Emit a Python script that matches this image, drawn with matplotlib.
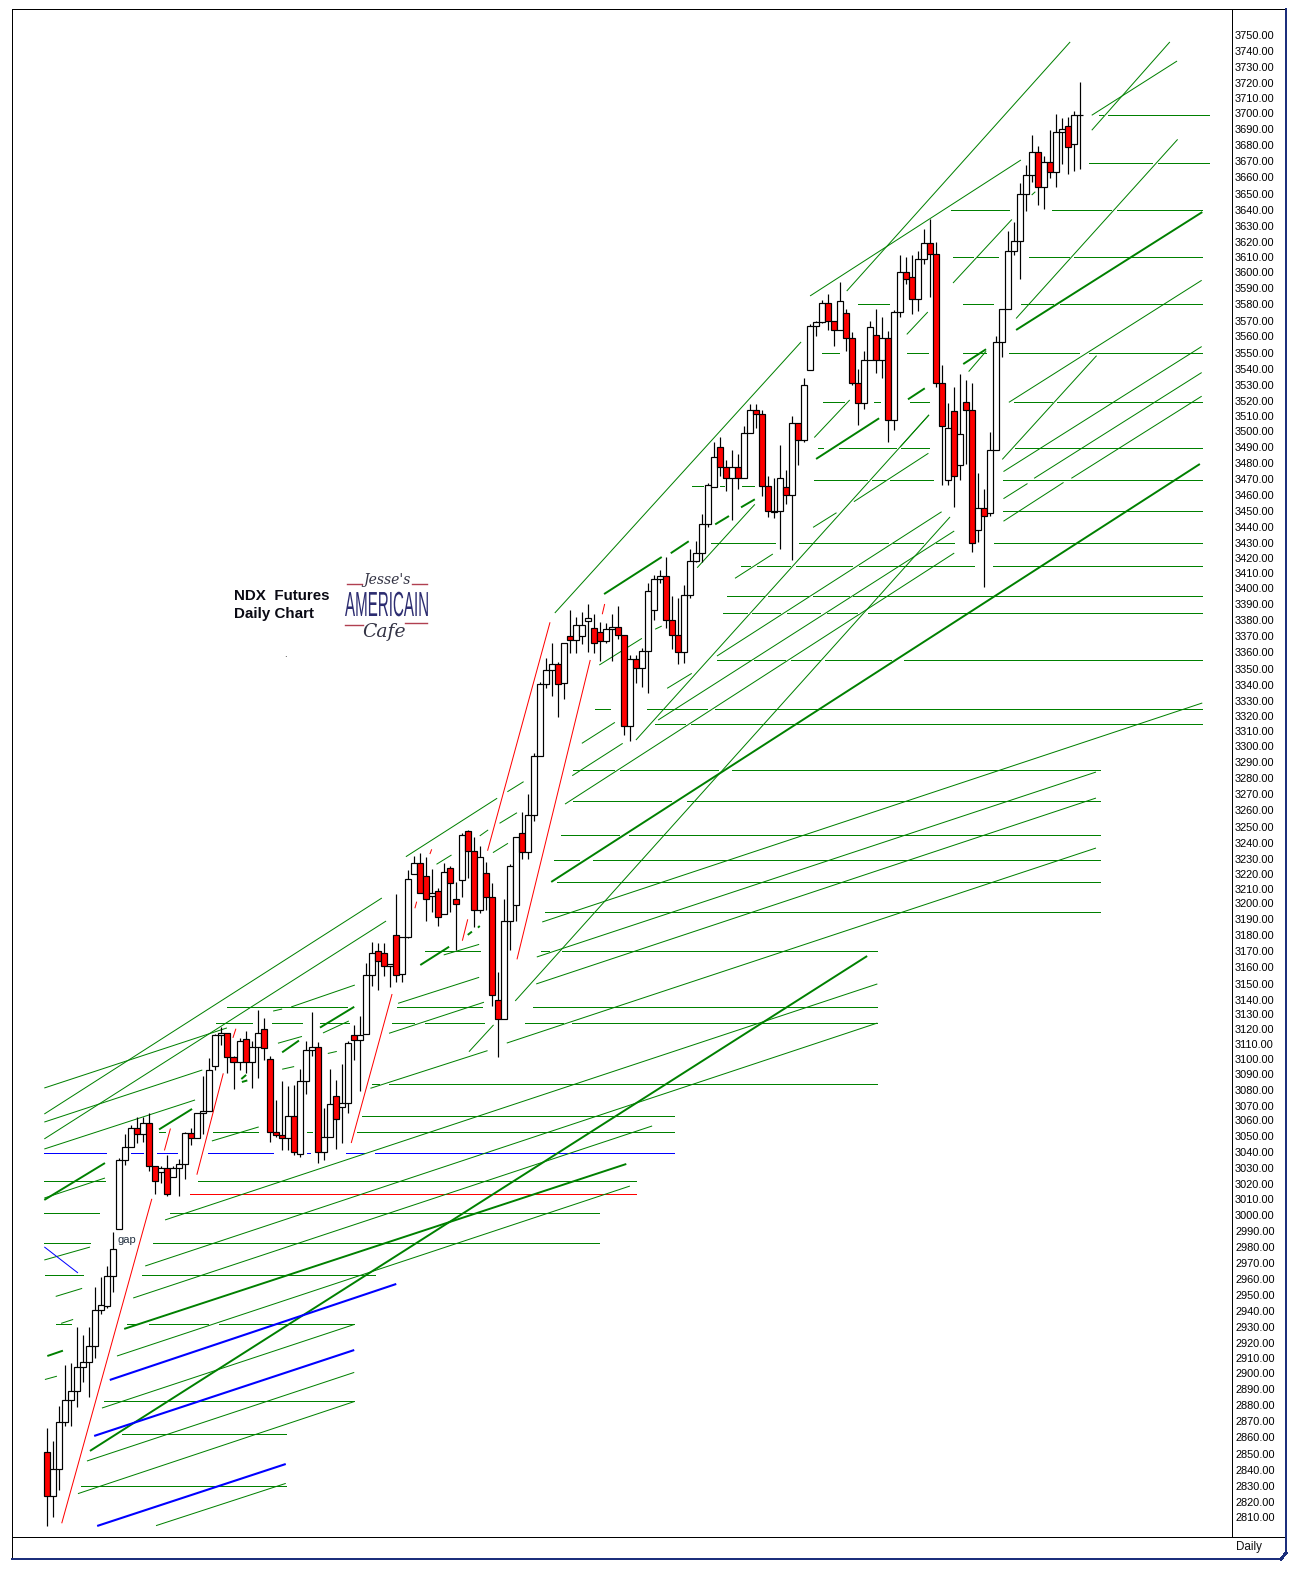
import matplotlib
matplotlib.use('Agg')
import matplotlib.pyplot as plt
from matplotlib.lines import Line2D
from matplotlib.patheffects import AbstractPathEffect
from matplotlib.transforms import Affine2D, ScaledTranslation

W, H = 1297, 1569

# daily candles
opens = [
    2851.0, 2823.2, 2840.3, 2870.5, 2884.4, 2889.6, 2905.2, 2908.5, 2918.7, 2941.0,
    2943.9, 2963.1, 2992.6, 3036.3, 3044.4, 3056.5, 3052.8, 3059.6, 3032.4, 3028.6,
    3031.5, 3025.7, 3031.5, 3034.1, 3053.4, 3050.2, 3066.1, 3067.3, 3095.9, 3115.4,
    3117.1, 3101.5, 3098.4, 3113.0, 3098.4, 3107.9, 3119.8, 3100.8, 3054.5, 3052.1,
    3050.2, 3064.2, 3040.5, 3086.3, 3105.9, 3107.9, 3041.2, 3050.9, 3076.8, 3070.1,
    3072.9, 3115.4, 3112.3, 3116.2, 3153.6, 3168.8, 3167.5, 3159.3, 3178.9, 3154.2,
    3177.7, 3217.6, 3224.6, 3216.4, 3203.9, 3206.9, 3192.3, 3221.4, 3201.8, 3213.8,
    3244.9, 3232.2, 3195.0, 3218.3, 3203.0, 3137.7, 3125.7, 3187.8, 3198.0, 3243.6,
    3231.6, 3255.1, 3292.5, 3338.1, 3347.0, 3350.8, 3338.8, 3368.6, 3366.0, 3368.6,
    3378.1, 3373.6, 3371.1, 3365.4, 3373.0, 3374.3, 3369.2, 3311.5, 3354.0, 3348.3,
    3359.1, 3385.0, 3405.0, 3406.9, 3378.8, 3369.2, 3358.5, 3394.6, 3416.2, 3421.3,
    3439.6, 3463.5, 3488.5, 3475.8, 3468.8, 3475.8, 3468.8, 3497.4, 3512.0, 3509.4,
    3463.7, 3447.3, 3447.9, 3463.1, 3458.0, 3503.7, 3492.9, 3537.3, 3565.2, 3568.2,
    3579.8, 3568.4, 3562.7, 3573.5, 3557.6, 3529.1, 3516.4, 3543.7, 3559.5, 3543.7,
    3557.6, 3505.6, 3574.1, 3599.5, 3596.3, 3582.3, 3607.7, 3617.9, 3610.9, 3529.1,
    3467.5, 3511.3, 3477.0, 3517.0, 3511.9, 3436.2, 3449.7, 3447.1, 3486.6, 3555.0,
    3576.0, 3612.9, 3619.1, 3648.9, 3660.9, 3675.5, 3653.4, 3669.3, 3662.8, 3688.3,
    3692.6, 3680.6, 3699.1]
highs = [
    2866.3, 2858.1, 2880.6, 2906.3, 2907.4, 2930.4, 2925.6, 2930.4, 2955.6, 2962.0,
    2969.5, 2990.8, 3037.6, 3053.2, 3058.6, 3064.0, 3064.0, 3066.1, 3032.4, 3032.8,
    3039.3, 3032.8, 3037.1, 3054.3, 3056.5, 3066.1, 3089.6, 3101.0, 3116.5, 3120.8,
    3117.1, 3102.5, 3113.9, 3118.2, 3112.1, 3131.5, 3126.7, 3102.5, 3074.4, 3086.5,
    3083.6, 3084.2, 3094.0, 3111.7, 3130.6, 3111.1, 3069.3, 3094.0, 3086.9, 3097.1,
    3111.7, 3121.8, 3127.7, 3161.2, 3174.5, 3173.9, 3173.9, 3160.6, 3205.2, 3177.7,
    3220.4, 3229.3, 3231.0, 3228.4, 3220.8, 3208.8, 3224.6, 3222.9, 3212.6, 3243.6,
    3245.7, 3241.5, 3235.6, 3225.7, 3212.3, 3155.9, 3201.8, 3224.2, 3241.5, 3257.0,
    3268.6, 3294.4, 3339.8, 3354.6, 3364.1, 3352.5, 3364.1, 3385.3, 3381.0, 3383.8,
    3389.1, 3382.5, 3377.5, 3377.2, 3382.5, 3387.8, 3369.2, 3356.7, 3356.7, 3361.0,
    3402.6, 3407.7, 3410.7, 3419.1, 3394.2, 3392.9, 3401.1, 3423.8, 3428.9, 3446.2,
    3465.6, 3491.7, 3494.8, 3480.4, 3486.8, 3484.3, 3502.0, 3515.8, 3515.9, 3512.2,
    3470.3, 3468.8, 3490.0, 3474.1, 3508.4, 3503.7, 3532.2, 3566.7, 3568.8, 3581.9,
    3585.7, 3568.4, 3593.1, 3576.2, 3561.4, 3538.2, 3549.4, 3568.8, 3576.0, 3570.9,
    3562.5, 3575.6, 3610.5, 3609.0, 3610.2, 3612.8, 3626.7, 3633.1, 3618.5, 3540.5,
    3516.4, 3527.0, 3534.8, 3530.9, 3529.2, 3472.2, 3462.0, 3498.0, 3559.0, 3576.0,
    3625.8, 3631.3, 3656.0, 3667.3, 3686.4, 3679.5, 3673.1, 3689.7, 3699.9, 3697.4,
    3698.2, 3701.6, 3719.9]
lows = [
    2804.5, 2809.9, 2827.0, 2867.7, 2867.7, 2879.6, 2895.6, 2885.9, 2911.0, 2938.9,
    2942.7, 2952.4, 2992.6, 3033.2, 3044.4, 3047.4, 3047.8, 3029.6, 3014.6, 3022.1,
    3013.5, 3025.7, 3013.5, 3024.3, 3045.7, 3050.2, 3053.2, 3067.3, 3093.3, 3109.6,
    3091.7, 3081.7, 3093.3, 3091.7, 3082.1, 3088.6, 3099.8, 3047.8, 3050.9, 3042.5,
    3042.5, 3039.7, 3038.6, 3078.5, 3102.5, 3034.5, 3036.7, 3050.9, 3043.6, 3047.4,
    3066.5, 3099.8, 3080.0, 3116.2, 3147.0, 3144.3, 3153.4, 3146.4, 3149.6, 3149.1,
    3177.0, 3217.6, 3205.6, 3188.2, 3194.0, 3185.1, 3192.3, 3194.0, 3169.6, 3203.5,
    3215.1, 3184.0, 3192.9, 3195.0, 3134.1, 3101.6, 3125.7, 3169.6, 3188.2, 3227.1,
    3227.1, 3251.7, 3292.5, 3335.6, 3330.7, 3317.6, 3329.0, 3358.2, 3358.2, 3363.7,
    3358.8, 3358.2, 3352.9, 3364.1, 3352.9, 3366.9, 3306.0, 3302.4, 3338.8, 3336.2,
    3332.4, 3378.8, 3402.6, 3373.7, 3360.7, 3350.8, 3351.5, 3392.9, 3416.0, 3416.0,
    3438.2, 3463.1, 3470.5, 3461.0, 3442.4, 3461.8, 3468.8, 3497.4, 3500.5, 3457.8,
    3444.1, 3443.5, 3423.8, 3452.5, 3417.0, 3477.3, 3491.7, 3537.3, 3559.1, 3567.5,
    3562.9, 3553.0, 3562.7, 3549.8, 3528.0, 3502.9, 3513.0, 3543.7, 3535.8, 3532.7,
    3492.1, 3499.5, 3571.4, 3592.1, 3573.0, 3575.2, 3604.8, 3583.6, 3526.5, 3464.6,
    3464.6, 3450.4, 3467.9, 3478.0, 3422.3, 3428.7, 3399.8, 3445.2, 3486.6, 3545.9,
    3576.0, 3610.3, 3595.5, 3638.1, 3657.0, 3642.0, 3639.5, 3659.2, 3653.9, 3668.2,
    3662.0, 3663.9, 3665.2]
closes = [
    2823.2, 2840.3, 2870.5, 2884.4, 2889.6, 2905.2, 2908.5, 2918.7, 2941.0, 2944.3,
    2963.1, 2979.7, 3036.3, 3044.4, 3056.5, 3052.8, 3059.6, 3032.4, 3023.4, 3031.5,
    3015.1, 3031.5, 3034.1, 3053.4, 3050.2, 3066.1, 3067.3, 3093.3, 3115.4, 3117.1,
    3101.5, 3098.4, 3111.7, 3098.4, 3107.9, 3117.1, 3107.3, 3054.5, 3052.1, 3050.2,
    3064.2, 3041.8, 3086.3, 3105.9, 3107.9, 3041.2, 3050.9, 3071.7, 3062.2, 3072.9,
    3110.7, 3112.3, 3116.0, 3153.6, 3167.5, 3162.5, 3159.3, 3160.6, 3153.6, 3177.7,
    3214.5, 3224.6, 3205.6, 3201.8, 3205.6, 3190.4, 3218.9, 3211.9, 3198.6, 3242.4,
    3232.2, 3195.0, 3228.4, 3203.0, 3140.9, 3125.7, 3187.8, 3222.9, 3241.1, 3231.6,
    3255.1, 3292.5, 3338.1, 3347.0, 3350.8, 3338.1, 3364.1, 3366.0, 3375.5, 3375.5,
    3380.0, 3364.1, 3365.4, 3373.0, 3374.3, 3369.2, 3311.5, 3354.0, 3348.3, 3359.1,
    3397.1, 3404.8, 3406.9, 3378.8, 3369.2, 3358.5, 3394.6, 3416.2, 3421.3, 3439.6,
    3464.4, 3482.1, 3475.8, 3468.8, 3475.8, 3468.8, 3497.4, 3512.0, 3509.4, 3463.7,
    3447.9, 3447.9, 3468.8, 3458.0, 3503.7, 3492.9, 3527.8, 3565.2, 3568.2, 3579.8,
    3568.4, 3562.7, 3581.1, 3557.6, 3529.1, 3516.4, 3543.7, 3564.6, 3543.7, 3557.6,
    3505.6, 3574.1, 3599.5, 3595.0, 3582.3, 3607.7, 3617.9, 3610.9, 3529.1, 3501.8,
    3500.5, 3470.1, 3497.2, 3511.9, 3427.6, 3449.7, 3445.2, 3486.6, 3555.0, 3576.0,
    3612.9, 3619.1, 3648.9, 3660.9, 3675.5, 3653.4, 3669.3, 3662.8, 3688.3, 3690.1,
    3678.7, 3699.1, 3699.1]

price_ticks = list(range(3750, 2800, -10))
# the labels of this chart sit a little unevenly: row of each label, top down
label_rows = [
    35, 51, 67, 83, 98, 113, 129, 145, 161, 177, 194, 210, 226, 242, 257, 272, 288, 304,
    321, 336, 353, 369, 385, 401, 416, 431, 447, 463, 479, 495, 511, 527, 543, 558, 573,
    588, 604, 620, 636, 652, 669, 685, 701, 716, 731, 746, 762, 778, 794, 810, 827, 843,
    859, 874, 889, 903, 919, 935, 951, 967, 984, 1000, 1014, 1029, 1044, 1059, 1074,
    1090, 1106, 1120, 1136, 1152, 1168, 1184, 1199, 1215, 1231, 1247, 1263, 1279, 1295,
    1311, 1327, 1343, 1358, 1373, 1389, 1405, 1421, 1437, 1454, 1470, 1486, 1502, 1517]

# horizontal levels: price, then (from bar, to bar) pieces
green_levels = [
    (3699.1, [(175.1, 175.8), (176.6, 193.4)]),
    (3668.6, [(173.4, 184.0), (184.9, 193.4)]),
    (3638.8, [(150.5, 160.1), (167.3, 177.1), (178.1, 192.3)]),
    (3609.0, [(150.8, 154.1), (154.8, 158.3), (163.5, 170.1), (170.9, 192.3)]),
    (3579.2, [(135.0, 140.2), (152.5, 157.5), (162.1, 167.5), (168.6, 192.3)]),
    (3548.1, [(129.0, 131.8), (143.2, 146.6), (152.5, 156.3), (160.1, 171.8), (173.4, 192.3)]),
    (3517.0, [(129.2, 132.7), (137.6, 138.6), (143.6, 146.8), (161.0, 167.3), (168.1, 192.3)]),
    (3487.9, [(128.3, 129.2), (131.8, 141.3), (142.1, 146.8), (161.1, 192.3)]),
    (3467.6, [(127.7, 136.5), (137.3, 139.5), (140.3, 147.5), (159.1, 192.3)]),
    (3463.8, [(107.3, 109.2), (112.0, 112.7), (115.7, 117.7)]),
    (3447.8, [(159.1, 192.3)]),
    (3427.6, [(110.5, 121.2), (125.2, 140.0), (140.8, 145.8), (148.0, 151.0), (157.6, 192.3)]),
    (3413.0, [(115.5, 117.0), (118.2, 123.7), (124.7, 134.0), (135.1, 154.3), (157.5, 192.3)]),
    (3393.9, [(113.2, 119.3), (120.0, 126.7), (127.5, 133.5), (134.2, 192.3)]),
    (3383.2, [(112.5, 116.5), (117.3, 122.0), (123.2, 128.7), (129.8, 134.8), (136.6, 192.3)]),
    (3353.4, [(111.5, 117.2), (117.7, 122.8), (123.8, 128.7), (129.5, 140.5), (142.6, 192.3)]),
    (3322.3, [(91.2, 93.7), (99.9, 109.8), (111.2, 192.3)]),
    (3312.8, [(101.2, 106.2), (107.2, 192.3)]),
    (3283.6, [(87.5, 94.4), (95.4, 111.7), (114.0, 175.3)]),
    (3264.0, [(87.5, 103.8), (106.5, 175.3)]),
    (3242.4, [(85.5, 95.2), (96.8, 175.3)]),
    (3226.5, [(84.4, 88.5), (90.9, 175.3)]),
    (3212.6, [(84.9, 175.3)]),
    (3193.5, [(82.9, 175.3)]),
    (3168.8, [(62.9, 72.0), (82.2, 83.5), (85.7, 138.2)]),
    (3133.3, [(29.9, 49.9), (58.2, 72.4), (80.9, 138.2)]),
    (3123.1, [(28.1, 34.1), (37.4, 42.4), (45.4, 50.2), (57.4, 61.1), (62.9, 72.7), (79.5, 85.9), (87.4, 138.2)]),
    (3084.4, [(54.1, 55.2), (56.9, 138.2)]),
    (3064.2, [(52.4, 104.4)]),
    (3054.0, [(18.6, 19.6), (27.6, 35.1), (43.2, 44.1), (51.6, 104.4)]),
    (3022.9, [(-0.5, 9.6), (25.1, 98.0)]),
    (3002.6, [(-0.5, 8.6), (20.4, 91.9)]),
    (2983.5, [(-0.5, 7.1), (17.6, 91.9)]),
    (2963.2, [(-0.4, 5.9), (15.8, 54.6)]),
    (2932.1, [(1.4, 3.9), (13.3, 14.6), (16.9, 26.8), (28.6, 51.1)]),
    (2883.4, [(9.4, 51.1)]),
    (2862.4, [(12.4, 39.7)]),
    (2829.4, [(5.6, 39.7)]),
]
blue_level = (3040.7, [(-0.5, 9.8), (13.9, 15.9), (18.3, 21.6), (22.4, 23.4), (26.8, 37.6),
                       (43.2, 43.7), (49.7, 52.7), (54.6, 104.4)])
red_level = (3014.7, [(23.8, 98.0)])

# trendlines: bar, price, bar, price
thick_green = [
    (83.9, 3212.8, 191.9, 3477.9), (161.3, 3562.9, 192.3, 3637.7),
    (7.1, 2851.9, 136.5, 3165.8), (12.8, 2929.3, 96.4, 3033.9),
    (-0.5, 3011.1, 9.6, 3034.5), (0.0, 2912.1, 2.6, 2915.5),
    (45.4, 3120.4, 51.1, 3133.6), (39.1, 3104.7, 41.9, 3112.2),
    (18.6, 3055.8, 24.1, 3068.8), (62.1, 3160.1, 66.9, 3171.7),
    (92.7, 3395.4, 102.3, 3418.9), (103.8, 3421.3, 106.8, 3428.9),
    (111.2, 3439.6, 113.5, 3444.9), (115.5, 3450.4, 117.8, 3455.5),
    (128.0, 3481.1, 138.5, 3506.9), (143.3, 3518.9, 146.1, 3525.9),
    (152.5, 3541.3, 156.3, 3550.7), (70.0, 3179.2, 70.7, 3181.3),
    (71.7, 3183.8, 72.0, 3184.9), (32.3, 3087.8, 33.1, 3090.4),
    (32.4, 3085.9, 33.3, 3086.9),
]
thick_blue = [
    (10.4, 2896.9, 58.1, 2957.8), (7.8, 2861.4, 51.1, 2915.9),
    (8.3, 2804.3, 39.7, 2843.6),
]
thin_blue = [(-0.5, 2981.3, 5.1, 2964.8)]
thin_green = [
    (-0.5, 3065.6, 55.7, 3202.6), (-0.5, 3049.8, 56.4, 3188.0),
    (-0.5, 3082.1, 29.9, 3120.2), (37.6, 3130.9, 39.1, 3132.2),
    (40.6, 3133.5, 51.2, 3147.4), (-0.5, 3060.5, 25.8, 3093.5),
    (-0.5, 3043.4, 24.6, 3074.5), (27.4, 3048.5, 35.2, 3057.4),
    (-0.5, 3012.3, 9.6, 3025.0), (-0.5, 2973.0, 7.1, 2981.2),
    (19.6, 2998.4, 138.2, 3148.1), (81.4, 3148.1, 174.6, 3266.0),
    (76.5, 3110.6, 174.6, 3234.3), (81.5, 3165.2, 174.6, 3282.5),
    (82.4, 3187.4, 192.3, 3326.3), (16.3, 2969.2, 138.2, 3123.3),
    (14.3, 2948.9, 100.7, 3058.0), (11.6, 2912.1, 97.0, 3019.9),
    (9.1, 2879.1, 51.1, 2932.1), (6.6, 2845.5, 51.1, 2901.7),
    (5.1, 2824.8, 51.1, 2883.2), (18.1, 2804.5, 39.7, 2831.3),
    (1.4, 2949.9, 5.8, 2955.0), (2.3, 2932.8, 4.3, 2935.3),
    (-0.4, 2897.2, 1.6, 2899.3), (38.4, 3110.5, 42.4, 3114.8),
    (46.7, 3104.0, 48.2, 3105.3), (39.1, 3094.0, 41.1, 3095.7),
    (45.9, 3117.0, 50.2, 3124.6),
    (84.5, 3383.4, 125.5, 3555.3), (133.1, 3587.6, 170.3, 3745.6),
    (127.0, 3584.5, 162.1, 3670.7), (150.8, 3592.7, 160.6, 3633.0),
    (143.1, 3560.1, 146.6, 3574.3), (173.9, 3689.6, 186.9, 3745.6),
    (173.9, 3699.1, 188.1, 3733.5), (161.3, 3570.2, 188.2, 3683.8),
    (160.1, 3517.0, 192.2, 3594.4), (159.0, 3480.8, 174.7, 3546.6),
    (159.2, 3473.1, 192.2, 3552.4), (164.3, 3468.8, 192.2, 3535.9),
    (170.5, 3468.8, 192.2, 3520.9), (159.2, 3455.9, 163.2, 3465.5),
    (159.2, 3441.6, 169.2, 3466.2), (153.4, 3536.5, 156.3, 3549.4),
    (163.9, 3648.5, 164.5, 3650.6), (142.0, 3488.7, 146.8, 3509.1),
    (108.2, 3412.1, 117.8, 3452.3), (127.7, 3494.7, 133.6, 3518.5),
    (77.9, 3137.3, 150.3, 3444.3), (98.0, 3302.8, 146.8, 3509.0),
    (89.0, 3300.7, 94.5, 3314.0), (87.4, 3280.2, 95.8, 3300.7),
    (86.2, 3262.2, 151.0, 3421.4), (101.7, 3315.5, 151.0, 3435.4),
    (111.5, 3356.1, 148.9, 3447.6), (114.5, 3405.4, 120.8, 3420.8),
    (127.5, 3437.7, 131.4, 3447.0), (134.3, 3454.0, 146.7, 3484.7),
    (103.2, 3335.6, 107.3, 3345.1), (91.9, 3350.4, 99.0, 3367.3),
    (101.2, 3373.1, 102.3, 3375.1), (59.7, 3228.8, 74.9, 3265.9),
    (76.6, 3270.0, 79.3, 3276.4), (72.0, 3242.0, 73.4, 3245.8),
    (75.3, 3250.0, 78.2, 3256.7), (74.2, 3231.4, 76.7, 3237.3),
    (64.8, 3224.0, 67.3, 3229.9), (66.0, 3166.5, 71.9, 3173.2),
    (58.4, 3135.8, 71.9, 3152.3), (56.9, 3116.8, 72.7, 3136.5),
    (53.8, 3081.9, 73.3, 3105.8), (70.2, 3105.1, 74.3, 3122.1),
]
thin_red = [
    (2.4, 2806.0, 17.4, 3011.8), (19.5, 3042.5, 20.5, 3056.4),
    (30.9, 3113.9, 31.4, 3119.7), (50.6, 3047.2, 57.4, 3141.7),
    (24.9, 3027.1, 29.3, 3091.4), (61.2, 3196.1, 61.5, 3200.3),
    (63.7, 3230.5, 64.0, 3233.5), (69.1, 3175.5, 70.0, 3189.1),
    (73.3, 3232.6, 83.7, 3377.5), (78.2, 3163.7, 90.4, 3353.6),
    (92.4, 3382.6, 92.8, 3389.1),
]

GREEN = '#008000'
BLUE = '#0000ff'
RED = '#ff0000'
PX = 0.72  # one pixel in points at dpi 100


def fx(x):
    return x / W


def fy(y):
    return 1 - y / H


class TallLetters(AbstractPathEffect):
    # the logo lettering is much taller than any installed font
    def __init__(self, scale_y):
        super().__init__()
        self.scale_y = scale_y

    def draw_path(self, renderer, gc, tpath, affine, rgbFace=None):
        renderer.draw_path(gc, tpath, Affine2D().scale(1, self.scale_y) + affine, rgbFace)


fig = plt.figure(figsize=(W / 100, H / 100), dpi=100, facecolor='white')
ax = fig.add_axes([fx(12), fy(1537), (1232 - 12) / W, (1537 - 9) / H])
ax.set_xlim(-5.88, 197.25)
ax.set_ylim(2797.3, 3766.5)


def draw_level(level, color):
    for x0, x1 in level[1]:
        ax.plot([x0, x1], [level[0], level[0]], color=color, lw=PX, aa=False, zorder=1)


def draw_lines(lines, color, lw):
    for x0, y0, x1, y1 in lines:
        ax.plot([x0, x1], [y0, y1], color=color, lw=lw, zorder=2, solid_capstyle='butt')


for lev in green_levels:
    draw_level(lev, GREEN)
draw_level(blue_level, BLUE)
draw_level(red_level, RED)

draw_lines(thin_green, GREEN, 0.72)
draw_lines(thin_blue, BLUE, 0.72)
draw_lines(thin_red, RED, 0.72)
draw_lines(thick_green, GREEN, 1.4)
draw_lines(thick_blue, BLUE, 1.5)

bars = list(range(len(opens)))
ax.vlines(bars, lows, highs, color='black', lw=1.2 * PX, zorder=3)
bottoms = [min(o, c) for o, c in zip(opens, closes)]
heights = [abs(o - c) for o, c in zip(opens, closes)]
faces = [RED if c < o else 'white' for o, c in zip(opens, closes)]
ax.bar(bars, heights, bottom=bottoms, width=1.0, color=faces, edgecolor='black',
       linewidth=1.2 * PX, zorder=4)

ax.text(13.2, 2985.7, 'gap', fontsize=8, family='Liberation Sans', color='#223040',
        ha='center', va='center', zorder=5)

# axis dressing
ax.set_xticks([])
ax.yaxis.tick_right()
ax.set_yticks(price_ticks)
ax.set_yticklabels(['%.2f' % p for p in price_ticks], fontsize=7.9, family='Liberation Sans')
ax.tick_params(axis='y', length=0, pad=2.2)
for side in ax.spines.values():
    side.set_linewidth(PX)
for lab, p, row in zip(ax.get_yticklabels(), price_ticks, label_rows):
    nudge = row - (35 + (3750 - p) * 1.5766)
    lab.set_transform(lab.get_transform() + ScaledTranslation(0, -nudge / 100, fig.dpi_scale_trans))

# frame round the plot area and the status strip
for xs, ys, col, lw in [
    ([12, 1286], [1537, 1537], 'black', PX),
    ([1232, 1286], [9, 9], 'black', PX),
    ([12, 12], [1537, 1558], 'black', PX),
    ([1286, 1286], [9, 1553], '#1c2f7c', 2 * PX),
    ([1281, 1286], [1559, 1553], '#1c2f7c', 2 * PX),
    ([12, 1281], [1559, 1559], '#1c2f7c', 2 * PX),
]:
    fig.add_artist(Line2D([fx(x) for x in xs], [fy(y) for y in ys], color=col, lw=lw,
                          aa=False))

fig.text(fx(1236), fy(1547), 'Daily', fontsize=8.4, family='Liberation Sans',
         va='center', color='#111111')

# note and logo
fig.text(fx(234), fy(596), 'NDX  Futures', fontsize=10.9, fontweight='bold',
         family='Liberation Sans', va='center', color='#0a0a14')
fig.text(fx(234), fy(614), 'Daily Chart', fontsize=10.9, fontweight='bold',
         family='Liberation Sans', va='center', color='#0a0a14')
fig.text(fx(285), fy(657), '.', fontsize=6, color='black', ha='center')

fig.text(fx(387), fy(580), "Jesse's", fontsize=10, style='italic', family='DejaVu Serif',
         color='#333344', ha='center', va='center')
amer = fig.text(fx(387), fy(616), 'AMERICAIN', fontsize=10.9, family='Liberation Sans',
                color='#2c2c70', ha='center', va='baseline')
amer.set_path_effects([TallLetters(2.3)])
fig.text(fx(384), fy(632), 'Cafe', fontsize=13.5, style='italic', family='DejaVu Serif',
         color='#333344', ha='center', va='center')
for xs, y in [((347, 362), 584), ((412, 427), 584), ((345, 363), 625), ((405, 427), 623)]:
    fig.add_artist(Line2D([fx(xs[0]), fx(xs[1])], [fy(y), fy(y)], color='#b04050', lw=1.4 * PX))

fig.savefig('out.png', dpi=100)
